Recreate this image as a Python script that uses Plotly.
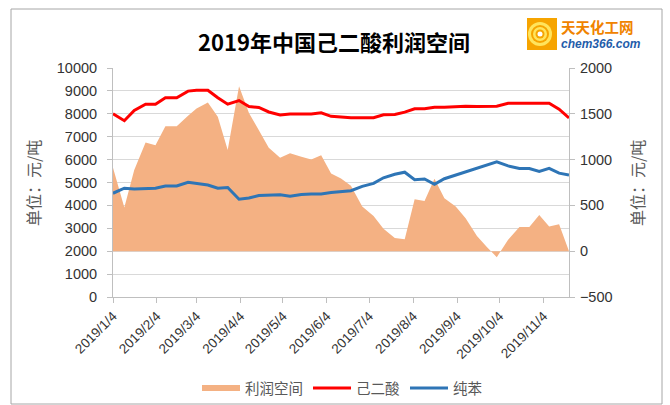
import plotly.graph_objects as go

# ---------------- data ----------------
dates = ["2019-01-04", "2019-01-12", "2019-01-19", "2019-01-27", "2019-02-03", "2019-02-10",
         "2019-02-18", "2019-02-26", "2019-03-04", "2019-03-12", "2019-03-19", "2019-03-26",
         "2019-04-03", "2019-04-10", "2019-04-17", "2019-04-24", "2019-05-02", "2019-05-09",
         "2019-05-17", "2019-05-24", "2019-05-31", "2019-06-07", "2019-06-14", "2019-06-21",
         "2019-06-29", "2019-07-07", "2019-07-14", "2019-07-22", "2019-07-29", "2019-08-05",
         "2019-08-12", "2019-08-19", "2019-08-26", "2019-09-03", "2019-09-10", "2019-09-18",
         "2019-09-25", "2019-10-02", "2019-10-10", "2019-10-18", "2019-10-25", "2019-11-01",
         "2019-11-08", "2019-11-15", "2019-11-22"]

profit = [911, 476, 886, 1188, 1158, 1365, 1365, 1478, 1558, 1623, 1467, 1104,
          1800, 1510, 1320, 1130, 1020, 1070, 1030, 1000, 1048, 849, 795, 715,
          487, 385, 245, 145, 131, 568, 548, 790, 577, 487, 360,
          165, 45, -65, 124, 265, 265, 396, 269, 295, 0]

adipic = [8000, 7700, 8150, 8420, 8420, 8700, 8700, 8990, 9030, 9030, 8700, 8420,
          8580, 8320, 8275, 8080, 7950, 7990, 7990, 7990, 8040, 7890, 7860, 7830,
          7830, 7830, 7957, 7970, 8073, 8217, 8217, 8290, 8290, 8319, 8333,
          8320, 8320, 8330, 8460, 8460, 8460, 8460, 8460, 8200, 7820]

benzene = [4530, 4750, 4720, 4720, 4750, 4850, 4850, 5010, 4970, 4890, 4750, 4780,
           4270, 4320, 4430, 4440, 4465, 4400, 4480, 4495, 4500, 4560, 4605, 4640,
           4830, 4960, 5207, 5360, 5450, 5120, 5155, 4925, 5165, 5323, 5468,
           5620, 5730, 5900, 5725, 5610, 5610, 5480, 5620, 5410, 5325]

tick_dates = ["2019-01-04", "2019-02-04", "2019-03-04", "2019-04-04", "2019-05-04", "2019-06-04",
              "2019-07-04", "2019-08-04", "2019-09-04", "2019-10-04", "2019-11-04"]
tick_labels = ["2019/1/4", "2019/2/4", "2019/3/4", "2019/4/4", "2019/5/4", "2019/6/4",
               "2019/7/4", "2019/8/4", "2019/9/4", "2019/10/4", "2019/11/4"]

title_text = "2019年中国己二酸利润空间"
unit_text = "单位：元/吨"
names = ["利润空间", "己二酸", "纯苯"]

# ---------------- layout helpers ----------------
W, H = 670, 405
L, R, T, B = 113, 569, 68, 297


def px(x):
    return (x - L) / (R - L)


def py(y):
    return (B - y) / (B - T)


CJK = "Noto Sans CJK SC"
NUM = "Liberation Sans, Arial"
axis_col = "#BFBFBF"
tick_font = dict(family=NUM, size=14.5, color="#333333")

fig = go.Figure()
# profit area on the base (right-hand) axis so that the price lines are drawn above it
fig.add_trace(go.Scatter(x=dates, y=profit, name=names[0], yaxis="y", mode="none",
                         fill="tozeroy", fillcolor="#F4B183"))
fig.add_trace(go.Scatter(x=dates, y=adipic, name=names[1], yaxis="y2", mode="lines",
                         line=dict(color="#FF0000", width=3)))
fig.add_trace(go.Scatter(x=dates, y=benzene, name=names[2], yaxis="y2", mode="lines",
                         line=dict(color="#2E75B6", width=3)))

fig.update_layout(
    width=W, height=H,
    margin=dict(l=L, r=W - R, t=T, b=H - B, pad=0),
    paper_bgcolor="white", plot_bgcolor="white",
    showlegend=True,
    legend=dict(orientation="h", xref="container", yref="container",
                x=342 / W, y=1 - 388 / H, xanchor="center", yanchor="middle",
                font=dict(family=CJK, size=14.5, color="#595959"), itemwidth=38,
                bgcolor="rgba(0,0,0,0)"),
    xaxis=dict(type="date", range=[dates[0], dates[-1]], tickvals=tick_dates, ticktext=tick_labels,
               tickangle=-45, showgrid=False, showline=True, linecolor=axis_col, linewidth=1,
               ticks="outside", ticklen=5, tickcolor=axis_col, zeroline=False, automargin=False,
               tickfont=dict(family=NUM, size=13.5, color="#333333")),
    yaxis=dict(range=[-500, 2000], dtick=500, side="right", showgrid=True, gridcolor="#D9D9D9",
               minor=dict(dtick=250, showgrid=True, gridcolor="#D9D9D9", ticks=""),
               showline=True, linecolor=axis_col, ticks="outside", ticklen=5, tickcolor=axis_col,
               zeroline=False, tickfont=tick_font, automargin=False, ticklabelstandoff=2),
    yaxis2=dict(range=[0, 10000], dtick=1000, overlaying="y", side="left", showgrid=False,
                tickformat="d", showline=True, linecolor=axis_col, ticks="outside", ticklen=5,
                tickcolor=axis_col, zeroline=False, tickfont=tick_font, automargin=False,
                ticklabelstandoff=7),
)

annotations = [
    dict(text="<b>" + title_text + "</b>", x=px(334), y=py(41), xref="paper", yref="paper",
         showarrow=False, font=dict(family=CJK, size=22, color="#000000"), xanchor="center",
         yanchor="middle"),
    dict(text=unit_text, x=px(33), y=py(183), xref="paper", yref="paper", showarrow=False,
         textangle=-90, font=dict(family=CJK, size=16, color="#595959"), xanchor="center",
         yanchor="middle"),
    dict(text=unit_text, x=px(637), y=py(183), xref="paper", yref="paper", showarrow=False,
         textangle=-90, font=dict(family=CJK, size=16, color="#595959"), xanchor="center",
         yanchor="middle"),
    dict(text="<b>天天化工网</b>", x=px(559), y=py(26), xref="paper", yref="paper",
         showarrow=False, font=dict(family=CJK, size=14.5, color="#F08300"), xanchor="left",
         yanchor="middle"),
    dict(text="<b><i>chem366.com</i></b>", x=px(559), y=py(44.5), xref="paper", yref="paper",
         showarrow=False, font=dict(family="Liberation Sans", size=12, color="#1F5DAA"),
         xanchor="left", yanchor="middle"),
]
fig.update_layout(annotations=annotations)

shapes = [
    # chart border
    dict(type="rect", xref="paper", yref="paper", x0=px(11), x1=px(662), y0=py(404), y1=py(9),
         line=dict(color="#A6A6A6", width=1), fillcolor="rgba(0,0,0,0)", layer="below"),
    # logo square
    dict(type="rect", xref="paper", yref="paper", x0=px(527), x1=px(557), y0=py(50), y1=py(18),
         line=dict(width=0), fillcolor="#F6A400"),
]
cx, cy = 540, 34
for r, col in [(12, "#FFE45C"), (9, "#F6A400"), (7, "#FFE45C"), (4.5, "#F6A400"), (2.5, "#FFFFFF")]:
    shapes.append(dict(type="circle", xref="paper", yref="paper", x0=px(cx - r), x1=px(cx + r),
                       y0=py(cy + r), y1=py(cy - r), line=dict(width=0), fillcolor=col))
fig.update_layout(shapes=shapes)

fig.write_html("out.html", config={"displayModeBar": False},
               post_script="document.body.style.margin='0';document.body.style.overflow='hidden';")
